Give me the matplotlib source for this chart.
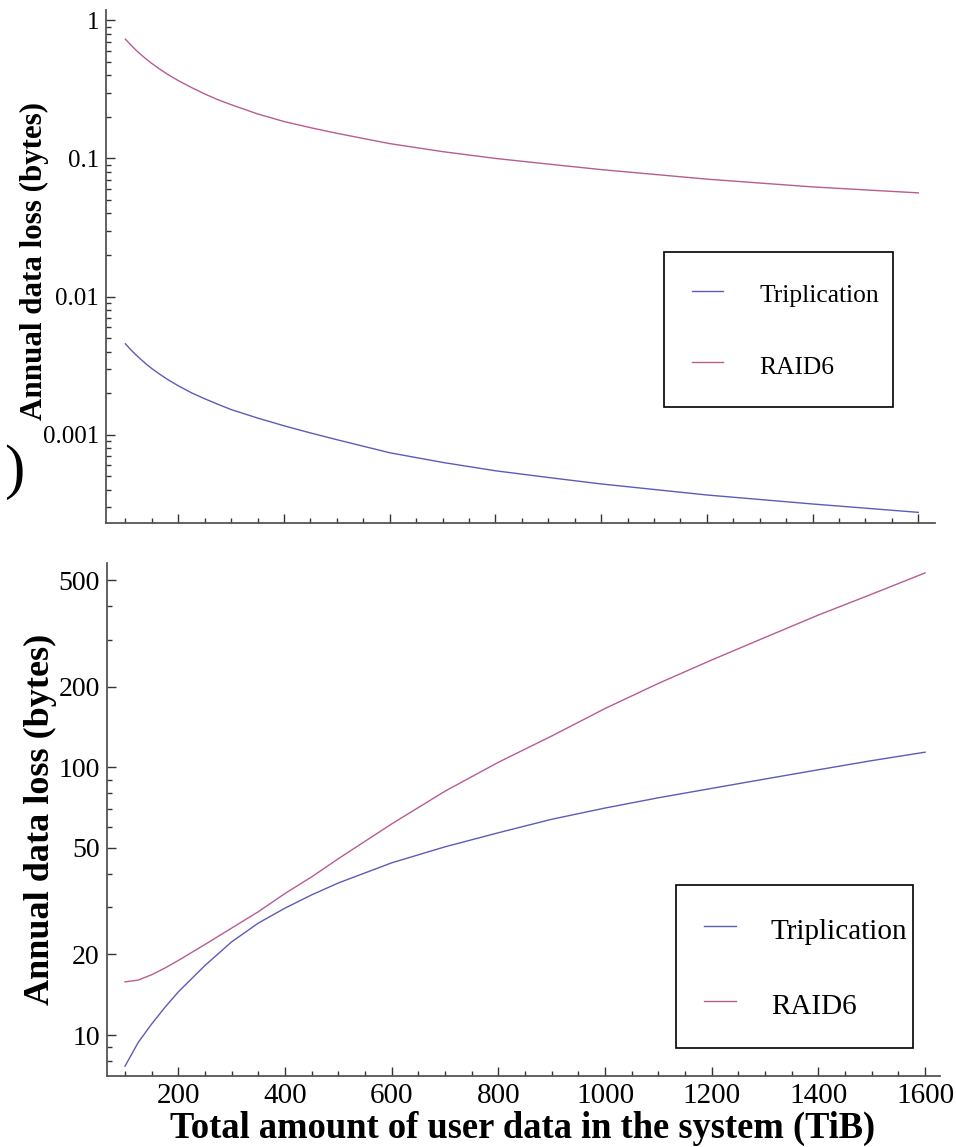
import matplotlib
matplotlib.use("Agg")
import matplotlib.pyplot as plt
from matplotlib.ticker import FixedLocator, FixedFormatter, LogLocator, MultipleLocator, NullFormatter

plt.rcParams['font.family'] = ['Liberation Serif', 'DejaVu Serif']

# top panel: annual data loss, decreasing with system size
x_top = [100, 110, 120, 130, 140, 150, 165, 180, 200, 225, 250, 275, 300, 350, 400, 450,
         500, 600, 700, 800, 900, 1000, 1200, 1400, 1600]
trip_top = [0.00455, 0.00413, 0.00378, 0.00349, 0.00323, 0.00301, 0.00274, 0.00251,
            0.00226, 0.00201, 0.00182, 0.00166, 0.00152, 0.00132, 0.00116, 0.00103,
            0.00092, 0.00074, 0.00063, 0.000548, 0.00049, 0.00044, 0.000366, 0.000315,
            0.000274]
raid6_top = [0.73, 0.664, 0.608, 0.562, 0.521, 0.487, 0.443, 0.406,
             0.366, 0.326, 0.293, 0.266, 0.245, 0.210, 0.185, 0.167,
             0.152, 0.128, 0.112, 0.100, 0.091, 0.083, 0.0708, 0.0622, 0.0563]

# bottom panel: annual data loss, increasing with system size
x_bot = [100, 125, 150, 175, 200, 250, 300, 350, 400, 450, 500, 600, 700, 800,
         900, 1000, 1100, 1200, 1300, 1400, 1500, 1600]
trip_bot = [7.65, 9.4, 11.0, 12.7, 14.5, 18.2, 22.3, 26.2, 29.8, 33.4, 37.0, 44.0, 50.5,
            57.0, 64.0, 70.5, 77.0, 83.5, 90.5, 98.0, 106.0, 114.0]
raid6_bot = [15.8, 16.05, 16.8, 17.8, 19.0, 21.8, 25.1, 28.9, 33.8, 39.0, 45.6, 61.5,
             81.5, 104.5, 131, 166, 206, 252, 306, 371, 444, 533]

top_ticks = [0.001, 0.01, 0.1, 1]
top_labels = ["0.001", "0.01", "0.1", "1"]
bot_ticks = [10, 20, 50, 100, 200, 500]
bot_labels = ["10", "20", "50", "100", "200", "500"]
series = ["Triplication", "RAID6"]
colors = ["#5c5cb8", "#b85c92"]

W, H = 956, 1147
fig = plt.figure(figsize=(W / 100, H / 100), dpi=100)


def px_axes(x0, y0, x1, y1):
    return fig.add_axes([x0 / W, 1 - y1 / H, (x1 - x0) / W, (y1 - y0) / H])


def style(ax, fs):
    for s in ["top", "right"]:
        ax.spines[s].set_visible(False)
    for s in ["left", "bottom"]:
        ax.spines[s].set_color("#555555")
        ax.spines[s].set_linewidth(1.3)
    ax.tick_params(which="both", direction="in", color="#333333", labelsize=fs, pad=5)
    ax.tick_params(which="major", length=6.5, width=1.0)
    ax.tick_params(which="minor", length=3.6, width=1.0)
    ax.xaxis.set_major_locator(MultipleLocator(200))
    ax.xaxis.set_minor_locator(MultipleLocator(50))
    ax.yaxis.set_minor_locator(LogLocator(base=10, subs=range(2, 10)))
    ax.yaxis.set_minor_formatter(NullFormatter())


ax1 = px_axes(106, 10, 935, 522.7)
ax1.plot(x_top, trip_top, color=colors[0], lw=1.0, label=series[0])
ax1.plot(x_top, raid6_top, color=colors[1], lw=1.0, label=series[1])
ax1.set_yscale("log")
ax1.set_xlim(63.3, 1631.6)
ax1.set_ylim(0.0002306, 1.187)
style(ax1, 18)
ax1.yaxis.set_major_locator(FixedLocator(top_ticks))
ax1.yaxis.set_major_formatter(FixedFormatter(top_labels))
ax1.tick_params(axis="x", labelbottom=False)
ax1.legend(loc="upper left", bbox_to_anchor=(664 / W, 1 - 253 / H, 229 / W, 0.001),
           bbox_transform=fig.transFigure, mode="expand", borderaxespad=0,
           fontsize=18.4, handlelength=1.2, handletextpad=1.42, labelspacing=1.70,
           handleheight=1.29, borderpad=1.10, fancybox=False, edgecolor="black",
           framealpha=1)
ax1.get_legend().get_frame().set_linewidth(1.2)

ax2 = px_axes(106.7, 562.7, 940, 1076)
ax2.plot(x_bot, trip_bot, color=colors[0], lw=1.0, label=series[0])
ax2.plot(x_bot, raid6_bot, color=colors[1], lw=1.0, label=series[1])
ax2.set_yscale("log")
ax2.set_xlim(65.7, 1628)
ax2.set_ylim(7.03, 582)
style(ax2, 20)
ax2.yaxis.set_major_locator(FixedLocator(bot_ticks))
ax2.yaxis.set_major_formatter(FixedFormatter(bot_labels))
ax2.tick_params(axis="x", labelsize=21)
ax2.legend(loc="upper left", bbox_to_anchor=(676 / W, 1 - 886 / H, 237 / W, 0.001),
           bbox_transform=fig.transFigure, mode="expand", borderaxespad=0,
           fontsize=21, handlelength=1.1, handletextpad=1.2, labelspacing=1.466,
           handleheight=1.34, borderpad=0.955, fancybox=False, edgecolor="black",
           framealpha=1)
ax2.get_legend().get_frame().set_linewidth(1.2)

fig.text(34 / W, 1 - 261 / H, "Annual data loss (bytes)", rotation=90, ha="center",
         va="center", fontsize=22.3, fontweight="bold")
fig.text(40 / W, 1 - 819 / H, "Annual data loss (bytes)", rotation=90, ha="center",
         va="center", fontsize=26, fontweight="bold")
fig.text(522.5 / W, 1 - 1128 / H, "Total amount of user data in the system (TiB)",
         ha="center", va="center", fontsize=26.3, fontweight="bold")
fig.text(14 / W, 1 - 472 / H, ")", ha="center", va="center", fontsize=44)

fig.savefig("out.png", dpi=100)
